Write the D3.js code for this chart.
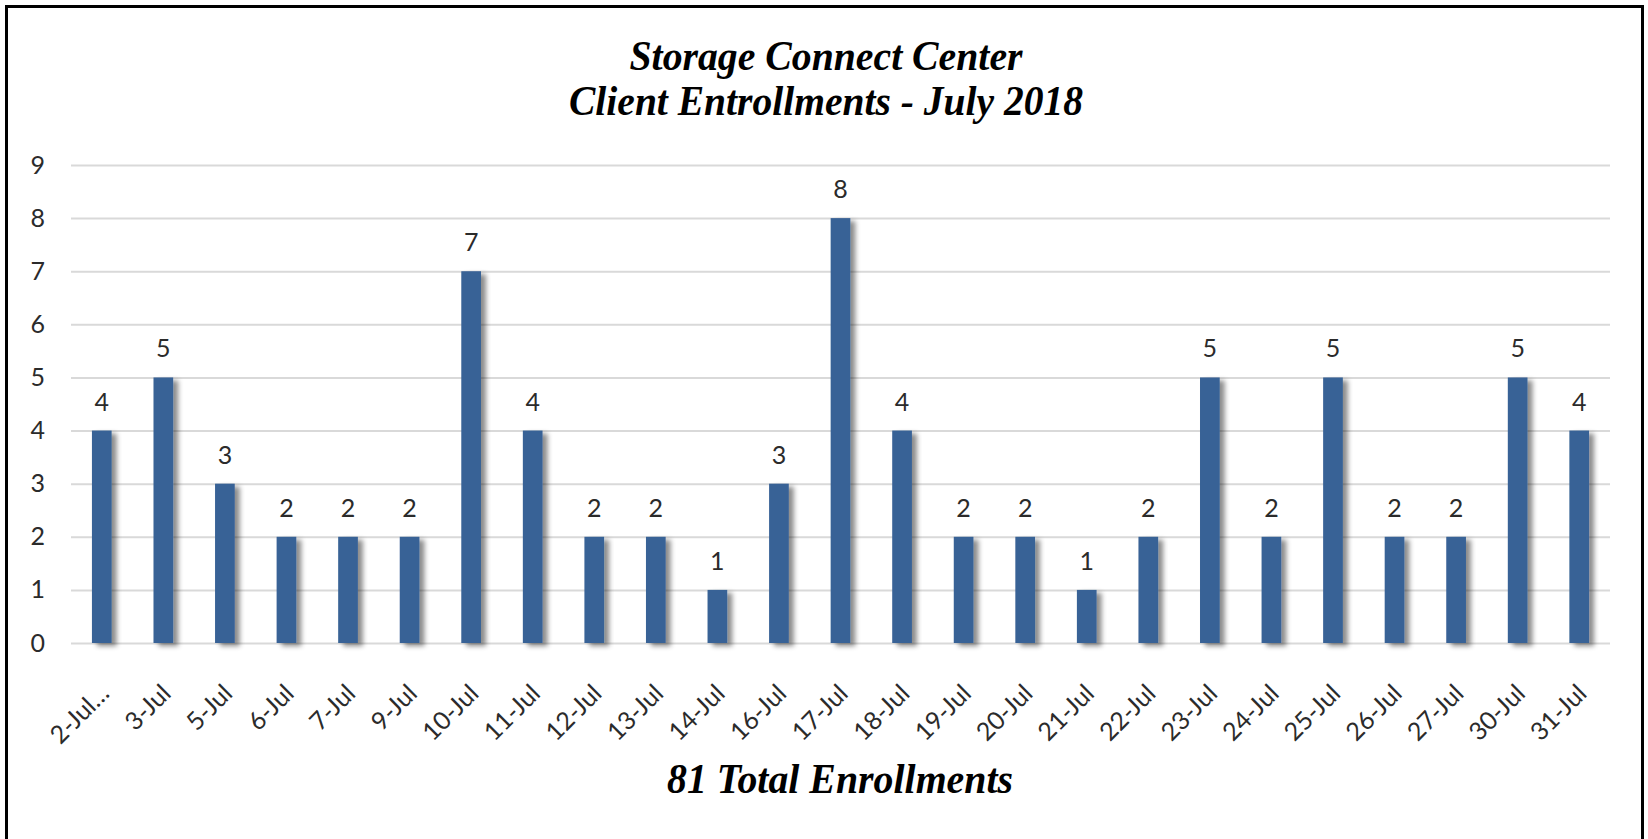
<!DOCTYPE html>
<html>
<head>
<meta charset="utf-8">
<script src="https://cdn.jsdelivr.net/npm/d3@7"></script>
<style>
  body { margin: 0; background: #fff; }
  .axis text { font-family: Lato, "Open Sans", sans-serif; fill: #2b2b2b; }
  .title { font-family: "Liberation Serif", "Times New Roman", serif; font-weight: bold; font-style: italic; fill: #000; }
</style>
</head>
<body>
<svg id="chart" width="1648" height="839"></svg>
<script>
const DAYS = ["2-Jul…", "3-Jul", "5-Jul", "6-Jul", "7-Jul", "9-Jul", "10-Jul", "11-Jul", "12-Jul",
  "13-Jul", "14-Jul", "16-Jul", "17-Jul", "18-Jul", "19-Jul", "20-Jul", "21-Jul", "22-Jul",
  "23-Jul", "24-Jul", "25-Jul", "26-Jul", "27-Jul", "30-Jul", "31-Jul"];
const ENROLLMENTS = [4, 5, 3, 2, 2, 2, 7, 4, 2, 2, 1, 3, 8, 4, 2, 2, 1, 2, 5, 2, 5, 2, 2, 5, 4];
const Y_TICKS = [0, 1, 2, 3, 4, 5, 6, 7, 8, 9];
const TITLE_LINES = ["Storage Connect Center", "Client Entrollments - July 2018"];
const FOOTER = `${d3.sum(ENROLLMENTS)} Total Enrollments`;

const config = { left: 71, right: 1610, top: 165, bottom: 643 };
const svg = d3.select("#chart");

// drop shadow for bars
const defs = svg.append("defs");
defs.append("filter")
  .attr("id", "shadow")
  .attr("x", "-50%").attr("y", "-10%")
  .attr("width", "200%").attr("height", "130%")
  .append("feDropShadow")
  .attr("dx", 5).attr("dy", 3)
  .attr("stdDeviation", 2.5)
  .attr("flood-color", "#000")
  .attr("flood-opacity", 0.45);

// frame
svg.append("rect")
  .attr("x", 6.5).attr("y", 6.5)
  .attr("width", 1636).attr("height", 860)
  .attr("fill", "none")
  .attr("stroke", "#000")
  .attr("stroke-width", 3);

// scales
const xScale = d3.scaleBand()
  .domain(DAYS)
  .range([config.left, config.right])
  .paddingInner(0.68)
  .paddingOuter(0.34);

const yScale = d3.scaleLinear()
  .domain([0, 9])
  .range([config.bottom, config.top]);

// y axis with gridlines
const yAxis = svg.append("g")
  .attr("class", "axis axis-y")
  .attr("transform", `translate(${config.left}, 0)`)
  .call(d3.axisLeft(yScale)
    .tickValues(Y_TICKS)
    .tickFormat(d3.format("d"))
    .tickSize(-(config.right - config.left))
    .tickPadding(26));
yAxis.select(".domain").remove();
yAxis.selectAll(".tick line").attr("stroke", "#d9d9d9").attr("stroke-width", 2);
yAxis.selectAll(".tick text").attr("font-size", 25);

// x axis labels
const xAxis = svg.append("g")
  .attr("class", "axis axis-x")
  .attr("transform", `translate(0, ${config.bottom})`)
  .call(d3.axisBottom(xScale).tickSize(0).tickPadding(0));
xAxis.select(".domain").remove();
xAxis.selectAll(".tick text")
  .attr("font-size", 25)
  .attr("text-anchor", "end")
  .attr("dy", 0)
  .attr("y", 0)
  .attr("transform", "translate(9, 52) rotate(-45)");

// bars
svg.append("g")
  .selectAll("rect")
  .data(ENROLLMENTS)
  .join("rect")
  .attr("x", (d, i) => xScale(DAYS[i]))
  .attr("y", (d) => yScale(d))
  .attr("width", xScale.bandwidth())
  .attr("height", (d) => yScale(0) - yScale(d))
  .attr("fill", "#386296")
  .attr("filter", "url(#shadow)");

// value labels
svg.append("g")
  .attr("class", "axis")
  .selectAll("text")
  .data(ENROLLMENTS)
  .join("text")
  .attr("x", (d, i) => xScale(DAYS[i]) + xScale.bandwidth() / 2)
  .attr("y", (d) => yScale(d) - 20)
  .attr("text-anchor", "middle")
  .attr("font-size", 25)
  .text((d) => d);

// title
svg.append("text")
  .attr("class", "title")
  .attr("x", 826).attr("y", 70)
  .attr("text-anchor", "middle")
  .attr("font-size", 43)
  .attr("textLength", 393)
  .attr("lengthAdjust", "spacingAndGlyphs")
  .text(TITLE_LINES[0]);
svg.append("text")
  .attr("class", "title")
  .attr("x", 826).attr("y", 115)
  .attr("text-anchor", "middle")
  .attr("font-size", 43)
  .attr("textLength", 514)
  .attr("lengthAdjust", "spacingAndGlyphs")
  .text(TITLE_LINES[1]);

// footer label
svg.append("text")
  .attr("class", "title")
  .attr("x", 840).attr("y", 793)
  .attr("text-anchor", "middle")
  .attr("font-size", 43)
  .attr("textLength", 346)
  .attr("lengthAdjust", "spacingAndGlyphs")
  .text(FOOTER);
</script>
</body>
</html>
